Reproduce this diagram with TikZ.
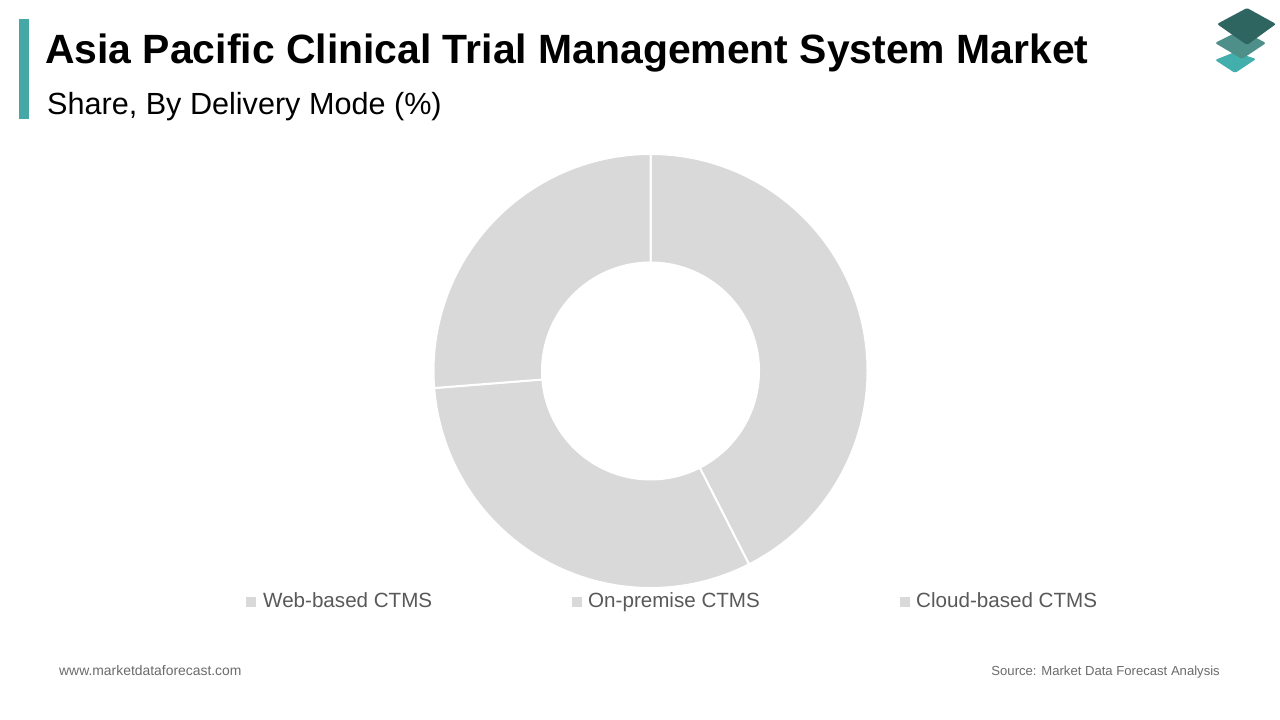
\documentclass[tikz,border=0pt]{standalone}
\usepackage{fontspec}
\setmainfont{Liberation Sans}
\definecolor{barTeal}{HTML}{45A8A6}
\definecolor{sliceGray}{HTML}{D9D9D9}
\definecolor{legendText}{HTML}{595959}
\definecolor{footText}{HTML}{6B6B6B}
\definecolor{iconTop}{HTML}{2F6560}
\definecolor{iconMid}{HTML}{4F8F8A}
\definecolor{iconLow}{HTML}{42AFAD}
\tikzset{
  legendlabel/.style={anchor=base west, inner sep=0pt, text=legendText, font=\fontsize{20.6}{24}\selectfont},
  legendkey/.style={fill=sliceGray},
  footlabel/.style={inner sep=0pt, text=footText, font=\fontsize{13.1}{16}\selectfont},
  iconlayer/.style={rounded corners=1.5pt}
}

\begin{document}
\begin{tikzpicture}[x=1pt, y=1pt]
  \useasboundingbox (0,0) rectangle (1280,720);
  \fill [white] (0,0) rectangle (1280,720);

  % title block
  \fill [barTeal] (19,601) rectangle (29,701);
  \node (title) at (45,656) [anchor=base west, inner sep=0pt] {\fontsize{40.9}{48}\selectfont\bfseries Asia Pacific Clinical Trial Management System Market};
  \node (subtitle) at (47,605.5) [anchor=base west, inner sep=0pt] {\fontsize{30.6}{36}\selectfont Share, By Delivery Mode (\%)};

  % icon
  \fill [iconLow, iconlayer] (1215,660) -- (1235,668) -- (1256,661) -- (1235,647) -- cycle;
  \fill [iconMid, iconlayer] (1215,677) -- (1241,690) -- (1266,677) -- (1242,661) -- cycle;
  \fill [iconTop, iconlayer] (1217,696) -- (1247,712) -- (1276,696) -- (1247,675) -- cycle;

  % donut
  \foreach \a/\b in {90/-63, -63/-175.5, 184.5/90}
    \filldraw [sliceGray, draw=white, line width=2pt]
      (650.5,349) ++(\a:217) arc (\a:\b:217) -- ++(\b:-108.5) arc (\b:\a:108.5) -- cycle;

  % legend
  \fill [legendkey] (246,113) rectangle (256,123);
  \node (web) at (263,112) [legendlabel] {Web-based CTMS};
  \fill [legendkey] (572,113) rectangle (582,123);
  \node (prem) at (588,112) [legendlabel] {On-premise CTMS};
  \fill [legendkey] (900,113) rectangle (910,123);
  \node (cloud) at (916,112) [legendlabel] {Cloud-based CTMS};

  % footer
  \node (site) at (59,44.5) [footlabel, anchor=base west, font=\fontsize{13.9}{16}\selectfont] {www.marketdataforecast.com};
  \node (source) at (1220,44.5) [footlabel, anchor=base east] {Source: Market Data Forecast Analysis};
\end{tikzpicture}
\end{document}
